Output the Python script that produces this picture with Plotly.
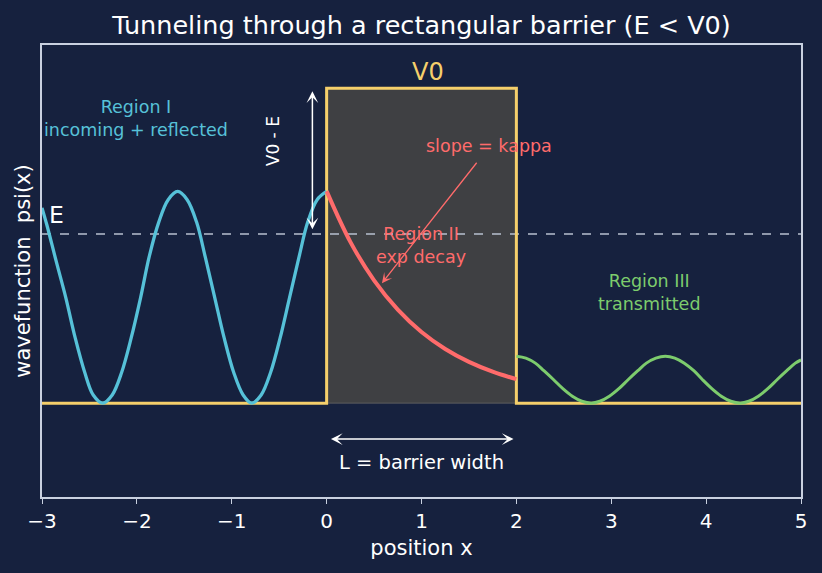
import plotly.graph_objects as go

# ---- data ----
V0 = 1.0
E_level = 0.537

pot_x = [-3, 0, 0, 2, 2, 5]
pot_y = [0, 0, 1.0, 1.0, 0, 0]

# Region I: incoming + reflected (oscillating), sampled every ~0.098 in x
r1_x = [-3.00, -2.95, -2.85, -2.75, -2.65, -2.55, -2.46, -2.36, -2.26, -2.16, -2.06,
        -1.96, -1.87, -1.77, -1.67, -1.57, -1.47, -1.37, -1.28, -1.18, -1.08, -0.98,
        -0.88, -0.79, -0.69, -0.59, -0.49, -0.39, -0.29, -0.20, -0.10, 0.00]
r1_y = [0.620, 0.567, 0.450, 0.336, 0.207, 0.098, 0.026, 0.000, 0.026, 0.098, 0.207,
        0.336, 0.465, 0.574, 0.646, 0.672, 0.646, 0.574, 0.465, 0.336, 0.207, 0.098,
        0.026, 0.000, 0.026, 0.098, 0.207, 0.336, 0.465, 0.574, 0.646, 0.672]

# Region II: exponential decay inside barrier
r2_x = [0.0, 0.25, 0.5, 0.75, 1.0, 1.25, 1.5, 1.75, 2.0]
r2_y = [0.673, 0.512, 0.390, 0.297, 0.226, 0.172, 0.131, 0.100, 0.076]

# Region III: transmitted
r3_x = [2.00, 2.10, 2.20, 2.29, 2.39, 2.49, 2.59, 2.69, 2.79, 2.88, 2.98, 3.08, 3.18,
        3.28, 3.37, 3.47, 3.57, 3.67, 3.77, 3.87, 3.96, 4.06, 4.16, 4.26, 4.36, 4.45,
        4.55, 4.65, 4.75, 4.85, 4.94, 5.00]
r3_y = [0.149, 0.143, 0.127, 0.103, 0.075, 0.046, 0.022, 0.006, 0.000, 0.006, 0.022,
        0.046, 0.075, 0.103, 0.127, 0.143, 0.149, 0.143, 0.127, 0.103, 0.075, 0.046,
        0.022, 0.006, 0.000, 0.006, 0.022, 0.046, 0.075, 0.103, 0.127, 0.137]

x_ticks = [-3, -2, -1, 0, 1, 2, 3, 4, 5]

BG = "#16213e"
GOLD = "#f5cf6b"
CYAN = "#56c1d8"
RED = "#ff6b6b"
GREEN = "#7dcc6d"
AX = "#c9d1e0"
FONT = "DejaVu Sans"

fig = go.Figure()

# barrier fill
fig.add_trace(go.Scatter(x=[0, 0, 2, 2, 0], y=[0, V0, V0, 0, 0], fill="toself",
                         fillcolor="rgba(68,68,68,0.9)", line=dict(color="rgba(110,110,110,0.7)", width=1),
                         mode="lines", hoverinfo="skip", showlegend=False))
# energy level
fig.add_trace(go.Scatter(x=[-3, 5], y=[E_level, E_level], mode="lines",
                         line=dict(color="#b8c0d0", width=1.5, dash="dash"), showlegend=False))
# potential
fig.add_trace(go.Scatter(x=pot_x, y=pot_y, mode="lines", line=dict(color=GOLD, width=3),
                         showlegend=False))
fig.add_trace(go.Scatter(x=r1_x, y=r1_y, mode="lines",
                         line=dict(color=CYAN, width=3.3, shape="spline"),
                         showlegend=False))
fig.add_trace(go.Scatter(x=r2_x, y=r2_y, mode="lines", line=dict(color=RED, width=4, shape="spline"),
                         showlegend=False))
fig.add_trace(go.Scatter(x=r3_x, y=r3_y, mode="lines",
                         line=dict(color=GREEN, width=3, shape="spline"),
                         showlegend=False))

ann = []
def txt(x, y, t, color, size, **kw):
    ann.append(dict(x=x, y=y, text=t, showarrow=False, font=dict(color=color, size=size, family=FONT), **kw))

txt(-2.01, 0.905, "Region I<br>incoming + reflected", CYAN, 17.5)
txt(0.99, 0.50, "Region II<br>exp decay", RED, 17.5)
txt(3.40, 0.352, "Region III<br>transmitted", GREEN, 17.5)
txt(1.07, 1.05, "V0", GOLD, 24)
txt(-2.85, 0.597, "E", "white", 23.5)
txt(-0.57, 0.83, "V0 - E", "white", 17, textangle=-90)
txt(1.0, -0.19, "L = barrier width", "white", 19.5)
txt(1.71, 0.816, "slope = kappa", RED, 17.5)

# arrows
def arrow(x0, y0, x1, y1, color, both=False, w=1.3):
    d = dict(x=x1, y=y1, ax=x0, ay=y0, xref="x", yref="y", axref="x", ayref="y",
             showarrow=True, arrowhead=3, arrowsize=1.3, arrowwidth=w, arrowcolor=color,
             text="", arrowside="end+start" if both else "end")
    if both:
        d["startarrowhead"] = 3
        d["startarrowsize"] = 1.3
    ann.append(d)

arrow(-0.15, E_level + 0.01, -0.15, V0 - 0.01, "white", both=True, w=1.5)
arrow(0.03, -0.114, 1.97, -0.114, "white", both=True, w=1.5)
arrow(1.594, 0.768, 0.583, 0.381, RED, w=1.3)

fig.update_layout(
    width=822, height=573,
    paper_bgcolor=BG, plot_bgcolor=BG,
    margin=dict(l=42, r=21, t=45, b=76),
    title=dict(text="Tunneling through a rectangular barrier (E < V0)", xref="paper", x=0.5,
               xanchor="center", y=0.956, yanchor="middle",
               font=dict(color="white", size=25.5, family=FONT)),
    font=dict(family=FONT, color="white"),
    annotations=ann,
    showlegend=False,
)
fig.update_xaxes(range=[-3, 5], tickvals=x_ticks, ticks="outside", ticklen=5, tickcolor=AX,
                 showgrid=False, zeroline=False, showline=True, linecolor=AX, linewidth=1.5, mirror=True,
                 tickfont=dict(size=20, color="white", family=FONT),
                 title=dict(text="position x", font=dict(size=21, color="white", family=FONT), standoff=9))
fig.update_yaxes(range=[-0.298, 1.137], showticklabels=False, ticks="",
                 showgrid=False, zeroline=False, showline=True, linecolor=AX, linewidth=1.5, mirror=True,
                 title=dict(text="wavefunction  psi(x)", font=dict(size=21, color="white", family=FONT),
                            standoff=4))

fig.write_html("out.html")
